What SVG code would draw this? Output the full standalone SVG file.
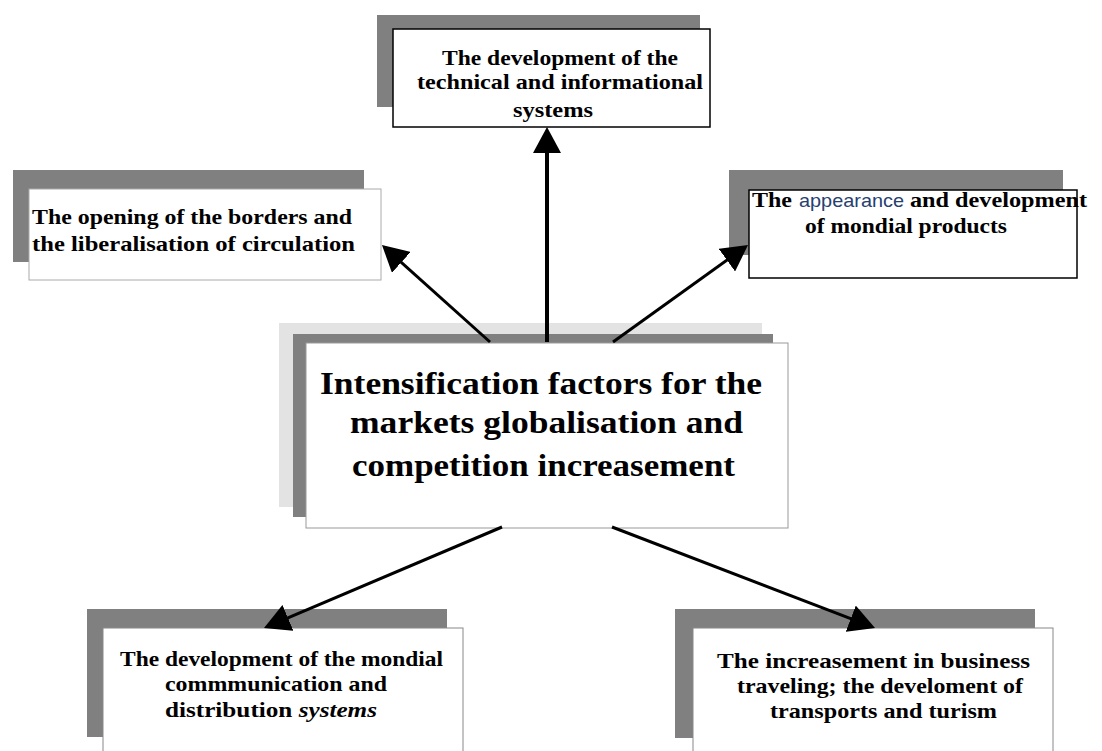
<svg xmlns="http://www.w3.org/2000/svg" width="1102" height="751" viewBox="0 0 1102 751">
<style>
.sh{fill:#808080}
.shl{fill:#e3e3e3}
.box{fill:#fff}
.t{font-family:"Liberation Serif","Times New Roman",serif;font-weight:bold;fill:#000}
.s{font-size:21px}
.b{font-size:31px}
.c{stroke:#000;fill:none}
</style>
<defs>
<marker id="ah" viewBox="0 0 26 28" refX="16" refY="14" markerWidth="26" markerHeight="28" markerUnits="userSpaceOnUse" orient="auto">
<path d="M0,0 L26,14 L0,28 Z" fill="#000"/>
</marker>
</defs>
<rect width="1102" height="751" fill="#fff"/>

<g id="node-top">
<rect class="sh" x="377" y="15" width="323" height="92"/>
<rect class="box" x="393" y="29" width="317" height="98" stroke="#000" stroke-width="1.5"/>
<text class="t s" x="442" y="65" textLength="236" lengthAdjust="spacingAndGlyphs">The development of the</text>
<text class="t s" x="417" y="89" textLength="286" lengthAdjust="spacingAndGlyphs">technical and informational</text>
<text class="t s" x="513" y="117" textLength="80" lengthAdjust="spacingAndGlyphs">systems</text>
</g>

<g id="node-left">
<rect class="sh" x="13" y="170" width="351" height="92"/>
<rect class="box" x="29" y="189" width="352" height="91" stroke="#aaa" stroke-width="1"/>
<text class="t s" x="32" y="224" textLength="320" lengthAdjust="spacingAndGlyphs">The opening of the borders and</text>
<text class="t s" x="32" y="251" textLength="323" lengthAdjust="spacingAndGlyphs">the liberalisation of circulation</text>
</g>

<g id="node-right">
<rect class="sh" x="729" y="170" width="334" height="85"/>
<rect class="box" x="749" y="190" width="328" height="88" stroke="#000" stroke-width="1.5"/>
<text class="t s" x="752" y="207" textLength="40" lengthAdjust="spacingAndGlyphs">The</text>
<text x="799" y="207" font-family="Liberation Sans, Arial, sans-serif" font-size="19" fill="#27406f" textLength="105" lengthAdjust="spacingAndGlyphs">appearance</text>
<text class="t s" x="910" y="207" textLength="177" lengthAdjust="spacingAndGlyphs">and development</text>
<text class="t s" x="805" y="233" textLength="202" lengthAdjust="spacingAndGlyphs">of mondial products</text>
</g>

<g id="node-center">
<rect class="shl" x="279" y="323" width="483" height="184"/>
<rect class="sh" x="293" y="334" width="480" height="183"/>
<rect class="box" x="306" y="343" width="482" height="185" stroke="#999" stroke-width="1"/>
<text class="t b" x="320" y="394" textLength="442" lengthAdjust="spacingAndGlyphs">Intensification factors for the</text>
<text class="t b" x="350" y="433" textLength="393" lengthAdjust="spacingAndGlyphs">markets globalisation and</text>
<text class="t b" x="352" y="476" textLength="383" lengthAdjust="spacingAndGlyphs">competition increasement</text>
</g>

<g id="node-bottom-left">
<rect class="sh" x="87" y="609" width="360" height="128"/>
<rect class="box" x="103" y="628" width="360" height="140" stroke="#888" stroke-width="1"/>
<text class="t s" x="120" y="666" textLength="323" lengthAdjust="spacingAndGlyphs">The development of the mondial</text>
<text class="t s" x="165" y="691" textLength="222" lengthAdjust="spacingAndGlyphs">commmunication and</text>
<text class="t s" x="165" y="717" textLength="212" lengthAdjust="spacingAndGlyphs">distribution <tspan font-style="italic">systems</tspan></text>
</g>

<g id="node-bottom-right">
<rect class="sh" x="675" y="609" width="360" height="129"/>
<rect class="box" x="693" y="628" width="360" height="140" stroke="#888" stroke-width="1"/>
<text class="t s" x="717" y="668" textLength="313" lengthAdjust="spacingAndGlyphs">The increasement in business</text>
<text class="t s" x="737" y="693" textLength="286" lengthAdjust="spacingAndGlyphs">traveling; the develoment of</text>
<text class="t s" x="770" y="718" textLength="227" lengthAdjust="spacingAndGlyphs">transports and turism</text>
</g>

<g id="connectors">
<line class="c" x1="547" y1="342" x2="547" y2="137" stroke-width="4" marker-end="url(#ah)"/>
<line class="c" x1="490" y1="342" x2="389.4" y2="251.7" stroke-width="3" marker-end="url(#ah)"/>
<line class="c" x1="613" y1="342" x2="739.9" y2="250.8" stroke-width="3" marker-end="url(#ah)"/>
<line class="c" x1="502" y1="527" x2="273.2" y2="624.1" stroke-width="3" marker-end="url(#ah)"/>
<line class="c" x1="612" y1="527" x2="865.7" y2="624.4" stroke-width="3" marker-end="url(#ah)"/>
</g>
</svg>
